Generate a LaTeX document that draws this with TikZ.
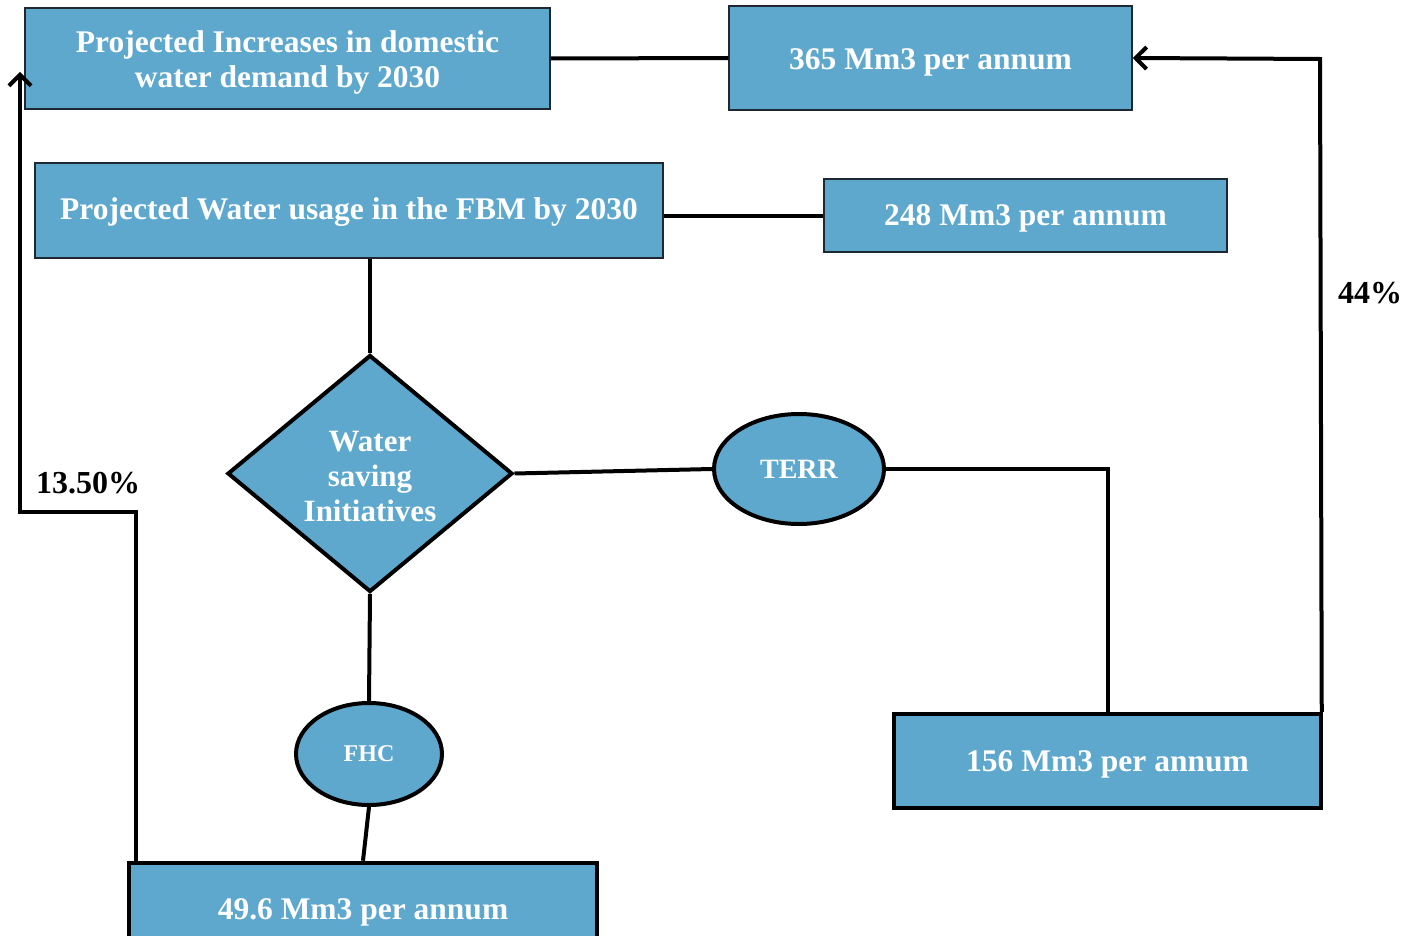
\documentclass[tikz,border=0pt]{standalone}
\usepackage{fontspec}
\setmainfont{Liberation Serif}
\usetikzlibrary{shapes.geometric,arrows.meta}
\definecolor{boxblue}{RGB}{94,168,206}
\definecolor{rimdark}{RGB}{30,40,48}
\tikzset{
  thinbox/.style={draw=rimdark,line width=1.5pt,fill=boxblue,inner sep=0pt},
  thickbox/.style={draw=black,line width=4.5pt,fill=boxblue,inner sep=0pt},
  boxtext/.style={text=white,font=\bfseries\fontsize{31.5}{35}\selectfont,align=center,inner sep=0pt},
  decision/.style={diamond,draw=black,line width=4pt,fill=boxblue,inner sep=0pt},
  oval/.style={ellipse,draw=black,line width=4pt,fill=boxblue,text=white,font=\bfseries\fontsize{28}{34}\selectfont,inner sep=0pt},
  link/.style={draw=black,line width=4pt},
  barb/.style={-{Straight Barb[length=11pt,width=22pt,line width=4pt]}},
  pct/.style={font=\bfseries\fontsize{32}{36}\selectfont,text=black}
}
\begin{document}
\begin{tikzpicture}[x=1pt,y=-1pt]
\useasboundingbox (0,0) rectangle (1407,936);
% rectangular boxes
\node[thinbox,minimum width=525pt,minimum height=101pt] (demand) at (287.5,58.5) {};
\node[thinbox,minimum width=403pt,minimum height=104pt] (dom) at (930.5,58) {};
\node[thinbox,minimum width=628pt,minimum height=95pt] (usage) at (349,210.5) {};
\node[thinbox,minimum width=403pt,minimum height=73pt] (fbm) at (1025.5,215.5) {};
\node[thickbox,minimum width=427pt,minimum height=94pt] (terrval) at (1107.5,761) {};
\node[thickbox,minimum width=468pt,minimum height=92pt] (fhcval) at (363,909) {};
% box captions, set a little below the box centres
\node[boxtext] (demandtxt) at ([yshift=-4pt]demand.center) {Projected Increases in domestic\\water demand by 2030};
\node[boxtext] (domtxt) at ([yshift=-4pt]dom.center) {365 Mm3 per annum};
\node[boxtext] (usagetxt) at ([yshift=-2pt]usage.center) {Projected Water usage in the FBM by 2030};
\node[boxtext] (fbmtxt) at ([yshift=-3pt]fbm.center) {248 Mm3 per annum};
\node[boxtext] (terrvaltxt) at ([yshift=-3pt]terrval.center) {156 Mm3 per annum};
\node[boxtext] (fhcvaltxt) at ([yshift=-3pt]fhcval.center) {49.6 Mm3 per annum};
% decision diamond with its three-line caption, and the two ovals
\node[decision,minimum width=285pt,minimum height=237pt] (save) at (370,473.5) {};
\node[font=\bfseries\fontsize{31}{35}\selectfont,text=white,align=center] (savetxt) at (370,476) {Water\\saving\\Initiatives};
\node[oval,minimum width=170pt,minimum height=110pt] (terr) at (799,469) {TERR};
\node[oval,minimum width=146pt,minimum height=102pt,font=\bfseries\fontsize{24}{28}\selectfont] (fhc) at (369,754) {FHC};
% connectors
\draw[link] (demand.east) -- (dom.west);
\draw[link] (usage.east |- fbm.west) -- (fbm.west);
\draw[link] (usage.south -| save.north) -- (save.north);
\draw[link] (save.east) -- (terr.west);
\draw[link] (terr.east) -- (terrval.north |- terr.east) -- (terrval.north);
\draw[link] (save.south) -- (fhc.north);
\draw[link] (fhc.south) -- (fhcval.north);
\coordinate (rturn) at (1320,59);
\draw[link,barb] ([xshift=-1.5pt]terrval.north east) -- (rturn) -- (dom.east);
\coordinate (lbend) at (136,512);
\coordinate (lcorner) at (20,512);
\coordinate (ltip) at (20,72);
\draw[link,barb] (lbend |- fhcval.north) -- (lbend) -- (lcorner) -- (ltip);
% percentage labels
\node[pct] (p44) at (1370,293) {44\%};
\node[pct] (p135) at (88,483) {13.50\%};
\end{tikzpicture}
\end{document}
